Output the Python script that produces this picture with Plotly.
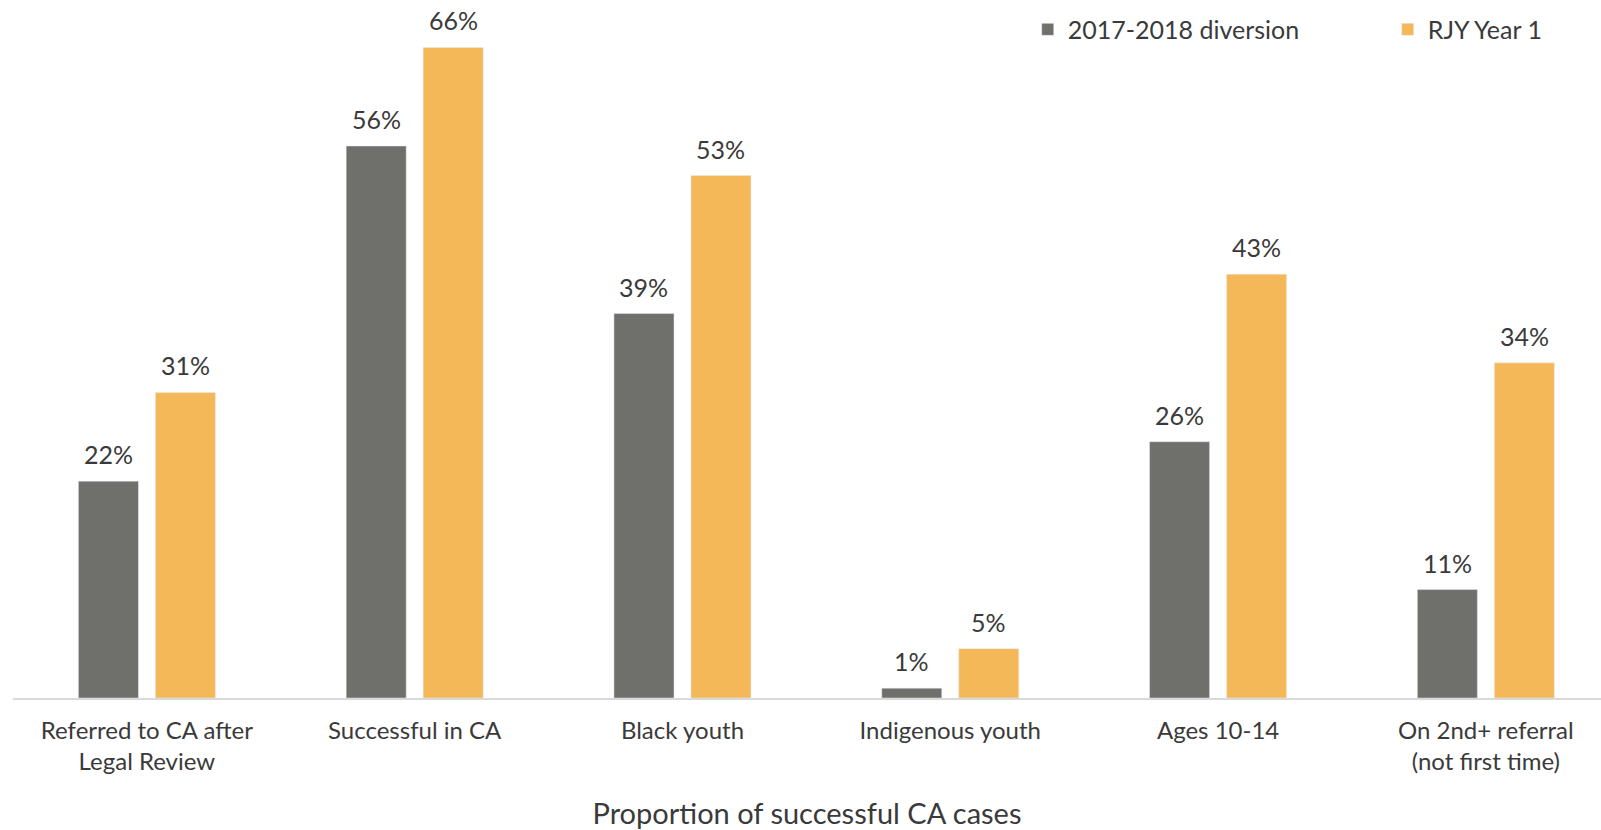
import plotly.graph_objects as go

categories = [
    "Referred to CA after<br>Legal Review",
    "Successful in CA",
    "Black youth",
    "Indigenous youth",
    "Ages 10-14",
    "On 2nd+ referral<br>(not first time)",
]
diversion_2017_2018 = [22, 56, 39, 1, 26, 11]
rjy_year_1 = [31, 66, 53, 5, 43, 34]

GREY = "#6f6f6c"
ORANGE = "#f4b858"
FONT = "Lato, 'Open Sans', sans-serif"
TEXT = "#3a3a3a"

WIDTH, HEIGHT = 1601, 830
MARGIN = {"l": 13, "r": 0, "t": 8, "b": 132, "autoexpand": False}
X_RANGE = [-0.5, 5.43]
BARGAP = 0.425

# pixel offset of each bar centre from its category centre
cat_px = (WIDTH - MARGIN["l"] - MARGIN["r"]) / (X_RANGE[1] - X_RANGE[0])
bar_offset = cat_px * (1 - BARGAP) / 4

fig = go.Figure()
fig.add_trace(go.Bar(name="2017-2018 diversion", x=categories, y=diversion_2017_2018, marker_color=GREY))
fig.add_trace(go.Bar(name="RJY Year 1", x=categories, y=rjy_year_1, marker_color=ORANGE))

for values, shift in [(diversion_2017_2018, -bar_offset), (rjy_year_1, bar_offset)]:
    for cat, v in zip(categories, values):
        fig.add_annotation(
            x=cat,
            y=v,
            text=f"{v}%",
            showarrow=False,
            xshift=shift,
            yshift=10,
            yanchor="bottom",
            font={"size": 25, "color": TEXT, "family": FONT},
        )

fig.update_layout(
    width=WIDTH,
    height=HEIGHT,
    barmode="group",
    bargap=BARGAP,
    bargroupgap=0.22,
    plot_bgcolor="white",
    paper_bgcolor="white",
    margin=MARGIN,
    font={"family": FONT, "color": TEXT, "size": 22},
    showlegend=True,
    legend={
        "orientation": "h",
        "x": 0.639,
        "y": 1.002,
        "xanchor": "left",
        "yanchor": "top",
        "font": {"size": 25, "color": TEXT},
        "entrywidth": 315,
        "bgcolor": "rgba(0,0,0,0)",
    },
    xaxis={
        "range": X_RANGE,
        "showline": True,
        "linecolor": "#d9d9d9",
        "linewidth": 2,
        "ticks": "",
        "ticklabelstandoff": 10,
        "tickfont": {"size": 24, "color": TEXT},
        "title": {
            "text": "Proportion of successful CA cases",
            "font": {"size": 29, "color": TEXT},
            "standoff": 30,
        },
    },
    yaxis={
        "range": [0, 70],
        "visible": False,
        "showgrid": False,
        "zeroline": False,
    },
)

# drop the browser's default body margin so the figure sits at the page corner
fig.write_html(
    "out.html",
    config={"displayModeBar": False},
    post_script="document.body.style.margin = '0';",
)
